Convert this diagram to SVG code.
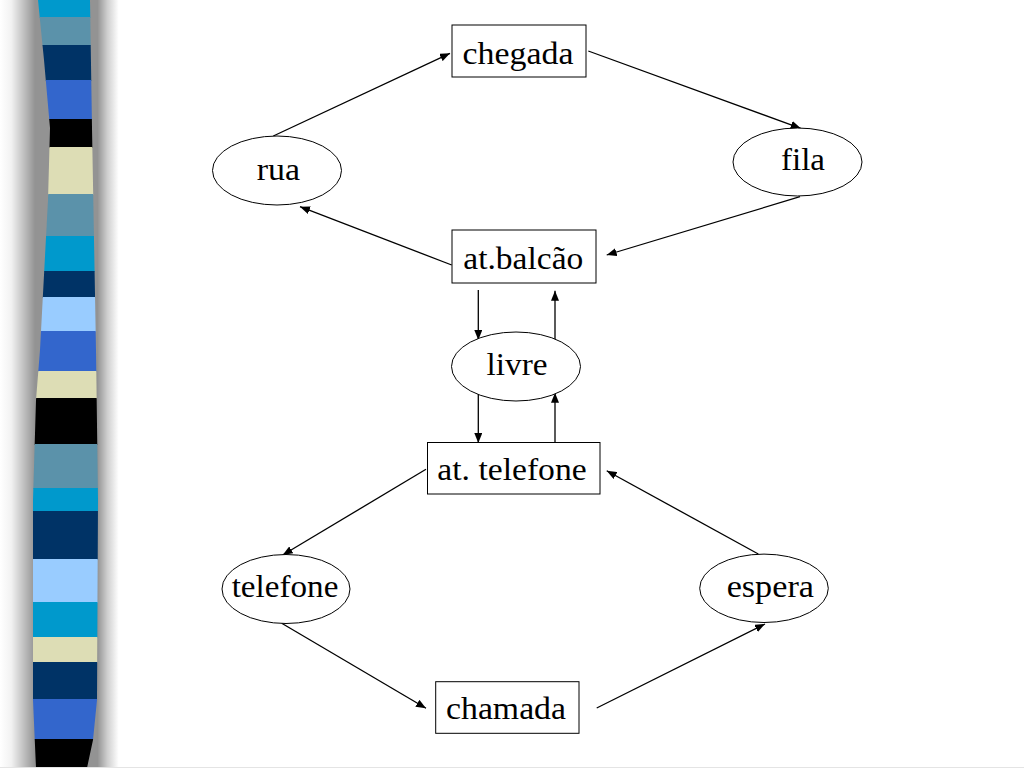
<svg xmlns="http://www.w3.org/2000/svg" width="1024" height="768" viewBox="0 0 1024 768">
  <defs>
    <linearGradient id="shadow" x1="0" y1="0" x2="125" y2="0" gradientUnits="userSpaceOnUse">
      <stop offset="0" stop-color="#ffffff"/>
      <stop offset="0.09" stop-color="#f2f2f2"/>
      <stop offset="0.28" stop-color="#939393"/>
      <stop offset="0.78" stop-color="#939393"/>
      <stop offset="0.86" stop-color="#cfcfcf"/>
      <stop offset="0.95" stop-color="#ffffff"/>
    </linearGradient>
    <clipPath id="stripClip">
      <path d="M38,0 L90,0 L92,128 L96,350 L98,500 L97,700 L93,740 L87,768 L36,768 L33,700 L33,500 L36,400 L40,350 L48,200 L50,128 L44,60 Z"/>
    </clipPath>
    <marker id="arrow" markerUnits="userSpaceOnUse" markerWidth="10" markerHeight="8" refX="10" refY="4" orient="auto">
      <path d="M0,0 L10,4 L0,8 Z" fill="#000"/>
    </marker>
    <style>
      .node rect, .node ellipse { fill: #ffffff; stroke: #000000; stroke-width: 1; }
      .node text { font-family: "Liberation Serif", "Times New Roman", Tinos, serif; font-size: 32px; fill: #000000; text-anchor: middle; }
      .edge { stroke: #000000; stroke-width: 1.3; fill: none; marker-end: url(#arrow); }
    </style>
  </defs>

  <rect width="1024" height="768" fill="#ffffff"/>

  <g id="decoration">
    <rect x="0" y="0" width="125" height="768" fill="url(#shadow)"/>
    <g clip-path="url(#stripClip)">
      <rect x="0" y="0" width="120" height="18" fill="#0099cc"/>
      <rect x="0" y="17" width="120" height="29" fill="#5b92aa"/>
      <rect x="0" y="45" width="120" height="36" fill="#003366"/>
      <rect x="0" y="80" width="120" height="40" fill="#3366cc"/>
      <rect x="0" y="119" width="120" height="29" fill="#000000"/>
      <rect x="0" y="147" width="120" height="48" fill="#ddddb5"/>
      <rect x="0" y="194" width="120" height="43" fill="#5b92aa"/>
      <rect x="0" y="236" width="120" height="36" fill="#0099cc"/>
      <rect x="0" y="271" width="120" height="27" fill="#003366"/>
      <rect x="0" y="297" width="120" height="35" fill="#99ccff"/>
      <rect x="0" y="331" width="120" height="41" fill="#3366cc"/>
      <rect x="0" y="371" width="120" height="28" fill="#ddddb5"/>
      <rect x="0" y="398" width="120" height="47" fill="#000000"/>
      <rect x="0" y="444" width="120" height="45" fill="#5b92aa"/>
      <rect x="0" y="488" width="120" height="24" fill="#0099cc"/>
      <rect x="0" y="511" width="120" height="49" fill="#003366"/>
      <rect x="0" y="559" width="120" height="44" fill="#99ccff"/>
      <rect x="0" y="602" width="120" height="36" fill="#0099cc"/>
      <rect x="0" y="637" width="120" height="26" fill="#ddddb5"/>
      <rect x="0" y="662" width="120" height="38" fill="#003366"/>
      <rect x="0" y="699" width="120" height="41" fill="#3366cc"/>
      <rect x="0" y="739" width="120" height="29" fill="#000000"/>
    </g>
    <line x1="0" y1="767.5" x2="1024" y2="767.5" stroke="#e4e4e4" stroke-width="1"/>
  </g>

  <g id="connectors">
    <line class="edge" x1="273.3" y1="136" x2="450" y2="53.3"/>
    <line class="edge" x1="588.3" y1="51" x2="800.7" y2="128.3"/>
    <line class="edge" x1="800" y1="196.7" x2="606.7" y2="255"/>
    <line class="edge" x1="451.7" y1="265" x2="300" y2="206.7"/>
    <line class="edge" x1="478.3" y1="290" x2="478.3" y2="340"/>
    <line class="edge" x1="555" y1="340" x2="555" y2="290.7"/>
    <line class="edge" x1="478.3" y1="393.3" x2="478.3" y2="443"/>
    <line class="edge" x1="555" y1="442.7" x2="555" y2="392.7"/>
    <line class="edge" x1="426" y1="469.3" x2="282.7" y2="555"/>
    <line class="edge" x1="281.7" y1="623.3" x2="426" y2="708.3"/>
    <line class="edge" x1="596.7" y1="708" x2="765" y2="624"/>
    <line class="edge" x1="758.3" y1="554" x2="606.7" y2="470.7"/>
  </g>

  <g id="chegada" class="node">
    <rect x="452" y="25" width="134" height="52"/>
    <text x="518" y="64" textLength="111" lengthAdjust="spacingAndGlyphs">chegada</text>
  </g>
  <g id="rua" class="node">
    <ellipse cx="277" cy="170.5" rx="64.5" ry="34.5"/>
    <text x="278.3" y="179.5" textLength="43.3" lengthAdjust="spacingAndGlyphs">rua</text>
  </g>
  <g id="fila" class="node">
    <ellipse cx="797.5" cy="162" rx="64.5" ry="34"/>
    <text x="803" y="170" textLength="44" lengthAdjust="spacingAndGlyphs">fila</text>
  </g>
  <g id="at-balcao" class="node">
    <rect x="452" y="230" width="144" height="53"/>
    <text x="523.3" y="268.5" textLength="120" lengthAdjust="spacingAndGlyphs">at.balcão</text>
  </g>
  <g id="livre" class="node">
    <ellipse cx="516" cy="366.5" rx="64.5" ry="34.5"/>
    <text x="517" y="375" textLength="61" lengthAdjust="spacingAndGlyphs">livre</text>
  </g>
  <g id="at-telefone" class="node">
    <rect x="427.5" y="442.5" width="172.5" height="51.5"/>
    <text x="512" y="480" textLength="149.3" lengthAdjust="spacingAndGlyphs">at. telefone</text>
  </g>
  <g id="telefone" class="node">
    <ellipse cx="286" cy="589" rx="64" ry="34.5"/>
    <text x="285" y="597" textLength="106.7" lengthAdjust="spacingAndGlyphs">telefone</text>
  </g>
  <g id="espera" class="node">
    <ellipse cx="764" cy="588.3" rx="64.3" ry="34.2"/>
    <text x="770.3" y="597.3" textLength="87.3" lengthAdjust="spacingAndGlyphs">espera</text>
  </g>
  <g id="chamada" class="node">
    <rect x="435.7" y="681.7" width="143.3" height="51.6"/>
    <text x="506" y="718.5" textLength="120" lengthAdjust="spacingAndGlyphs">chamada</text>
  </g>
</svg>
